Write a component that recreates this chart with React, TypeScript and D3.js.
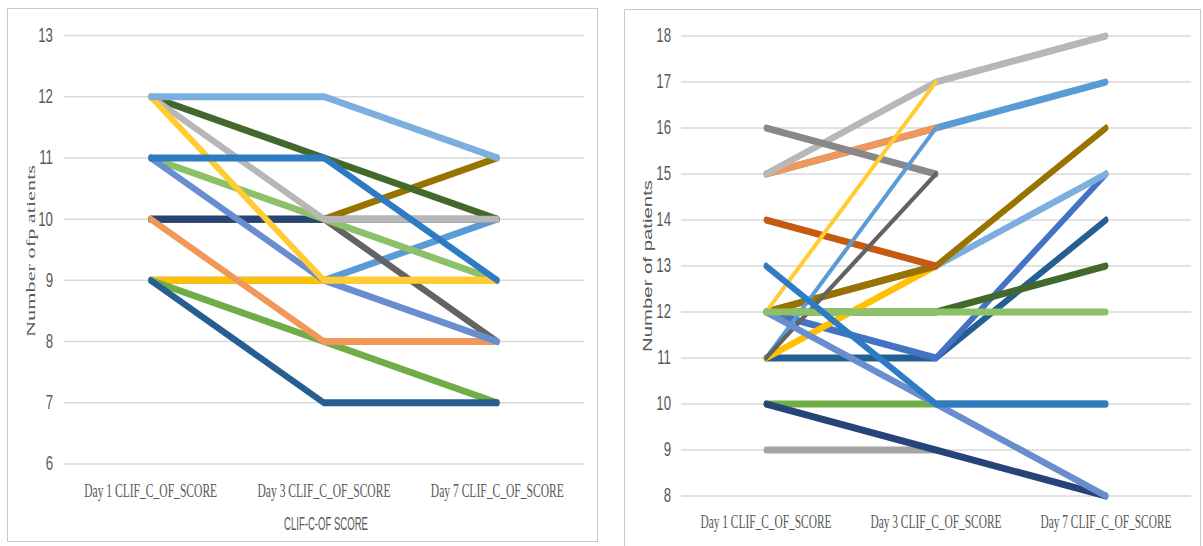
import React from "react";
import * as d3 from "d3";

const categories = ["Day 1 CLIF_C_OF_SCORE", "Day 3 CLIF_C_OF_SCORE", "Day 7 CLIF_C_OF_SCORE"];

const leftTicks = [6, 7, 8, 9, 10, 11, 12, 13];
const rightTicks = [8, 9, 10, 11, 12, 13, 14, 15, 16, 17, 18];

type S = { color: string; values: (number | null)[]; width?: number };

// Left chart series (draw order)
const leftSeries: S[] = [
  { color: "#5B9BD5", values: [9, 9, 10] },
  { color: "#FFC000", values: [9, 9, 9] },
  { color: "#636363", values: [10, 10, 8] },
  { color: "#997300", values: [10, 10, 11] },
  { color: "#264478", values: [10, 10, 10] },
  { color: "#70AD47", values: [9, 8, 7] },
  { color: "#255E91", values: [9, 7, 7] },
  { color: "#F1975A", values: [10, 8, 8] },
  { color: "#43682B", values: [12, 11, 10] },
  { color: "#8CC168", values: [11, 10, 9] },
  { color: "#698ED0", values: [11, 9, 8] },
  { color: "#B7B7B7", values: [12, 10, 10] },
  { color: "#FFCD33", values: [12, 9, 9] },
  { color: "#2E7BC4", values: [11, 11, 9] },
  { color: "#7CAFDD", values: [12, 12, 11] },
];

// Right chart series (draw order)
const rightSeries: S[] = [
  { color: "#A5A5A5", values: [9, 9, null] },
  { color: "#70AD47", values: [10, 10, 10] },
  { color: "#264478", values: [10, 9, 8] },
  { color: "#255E91", values: [11, 11, 14] },
  { color: "#4472C4", values: [12, 11, 15] },
  { color: "#43682B", values: [12, 12, 13] },
  { color: "#7CAFDD", values: [12, 13, 15] },
  { color: "#FFC000", values: [11, 13, null] },
  { color: "#997300", values: [12, 13, 16] },
  { color: "#C55A11", values: [14, 13, null] },
  { color: "#5B9BD5", values: [15, 16, 17] },
  { color: "#F1975A", values: [15, 16, null] },
  { color: "#B7B7B7", values: [15, 17, 18] },
  { color: "#888888", values: [16, 15, null] },
  { color: "#FFCD33", values: [12, 17, null], width: 5 },
  { color: "#5B9BD5", values: [11, 16, null], width: 5 },
  { color: "#636363", values: [11, 15, null], width: 5 },
  { color: "#698ED0", values: [12, 10, 8] },
  { color: "#8CC168", values: [12, 12, 12] },
  { color: "#2E7BC4", values: [13, 10, 10] },
];

const SX = 0.68;
const ex = (x: number) => x / SX;
const TXT = "#595959";
const GRID = "#d9d9d9";

function Panel(props: {
  series: S[];
  ticks: number[];
  yDomain: [number, number];
  yRange: [number, number];
  xRange: [number, number];
  tickX: number;
  catY: number;
  catLen: number;
  yTitle: string;
  yTitleX: number;
  yTitleY: number;
  yTitleFont: string;
  yTitleSize: number;
  xTitle?: string;
  xTitleY?: number;
}) {
  const y = d3.scaleLinear().domain(props.yDomain).range(props.yRange);
  const x = d3
    .scalePoint<string>()
    .domain(categories)
    .range([ex(props.xRange[0]), ex(props.xRange[1])])
    .padding(0.5);
  const line = d3
    .line<number | null>()
    .defined((d) => d != null)
    .x((_, i) => x(categories[i]) as number)
    .y((d) => y(d as number));
  return (
    <g>
      {props.ticks.map((t) => (
        <line
          key={"g" + t}
          x1={ex(props.xRange[0])}
          x2={ex(props.xRange[1])}
          y1={y(t)}
          y2={y(t)}
          stroke={GRID}
          strokeWidth={1.5}
        />
      ))}
      {props.ticks.map((t) => (
        <text
          key={"t" + t}
          x={ex(props.tickX)}
          y={y(t)}
          textAnchor="end"
          dominantBaseline="central"
          fontFamily="Liberation Sans, Arial, sans-serif"
          fontSize={19.5}
          fill={TXT}
        >
          {t}
        </text>
      ))}
      {props.series.map((s, i) => (
        <path
          key={"s" + i}
          d={line(s.values) || ""}
          fill="none"
          stroke={s.color}
          strokeWidth={s.width ?? 7}
          strokeLinecap="round"
          strokeLinejoin="round"
        />
      ))}
      {categories.map((c) => (
        <text
          key={c}
          x={x(c)}
          y={props.catY}
          textAnchor="middle"
          dominantBaseline="central"
          fontFamily="Liberation Serif, Times New Roman, serif"
          fontSize={19.5}
          fill={TXT}
          textLength={props.catLen / SX}
          lengthAdjust="spacingAndGlyphs"
        >
          {c}
        </text>
      ))}
      <text
        transform={`translate(${ex(props.yTitleX)},${props.yTitleY}) rotate(-90)`}
        textAnchor="middle"
        dominantBaseline="central"
        fontFamily={props.yTitleFont}
        fontSize={props.yTitleSize}
        fill={TXT}
        textLength={172}
        lengthAdjust="spacingAndGlyphs"
      >
        {props.yTitle}
      </text>
      {props.xTitle && (
        <text
          x={ex((props.xRange[0] + props.xRange[1]) / 2 + 2)}
          y={props.xTitleY}
          textAnchor="middle"
          dominantBaseline="central"
          fontFamily="Liberation Sans, Arial, sans-serif"
          fontSize={19}
          fill={TXT}
          textLength={84 / SX}
          lengthAdjust="spacingAndGlyphs"
        >
          {props.xTitle}
        </text>
      )}
    </g>
  );
}

export default function App() {
  return (
    <svg
      width={1203}
      height={546}
      style={{ position: "fixed", left: 0, top: 0, background: "#fff" }}
    >
      <rect x={0} y={0} width={1203} height={546} fill="#fff" />
      <rect x={7.5} y={8.5} width={590} height={533} fill="none" stroke="#c8c8c8" strokeWidth={1} />
      <rect x={624.5} y={9.5} width={576} height={545} fill="none" stroke="#c8c8c8" strokeWidth={1} />
      <g transform={`scale(${SX},1)`}>
        <Panel
          series={leftSeries}
          ticks={leftTicks}
          yDomain={[6, 13]}
          yRange={[464, 35.5]}
          xRange={[64, 584]}
          tickX={53}
          catY={491}
          catLen={133}
          yTitle="Number ofp atients"
          yTitleX={31}
          yTitleY={251}
          yTitleFont="Liberation Serif, Times New Roman, serif"
          yTitleSize={19}
          xTitle="CLIF-C-OF SCORE"
          xTitleY={523}
        />
        <Panel
          series={rightSeries}
          ticks={rightTicks}
          yDomain={[8, 18]}
          yRange={[496, 36]}
          xRange={[681, 1191]}
          tickX={671}
          catY={522}
          catLen={131}
          yTitle="Number of patients"
          yTitleX={648}
          yTitleY={266}
          yTitleFont="Liberation Sans, Arial, sans-serif"
          yTitleSize={18}
        />
      </g>
    </svg>
  );
}
